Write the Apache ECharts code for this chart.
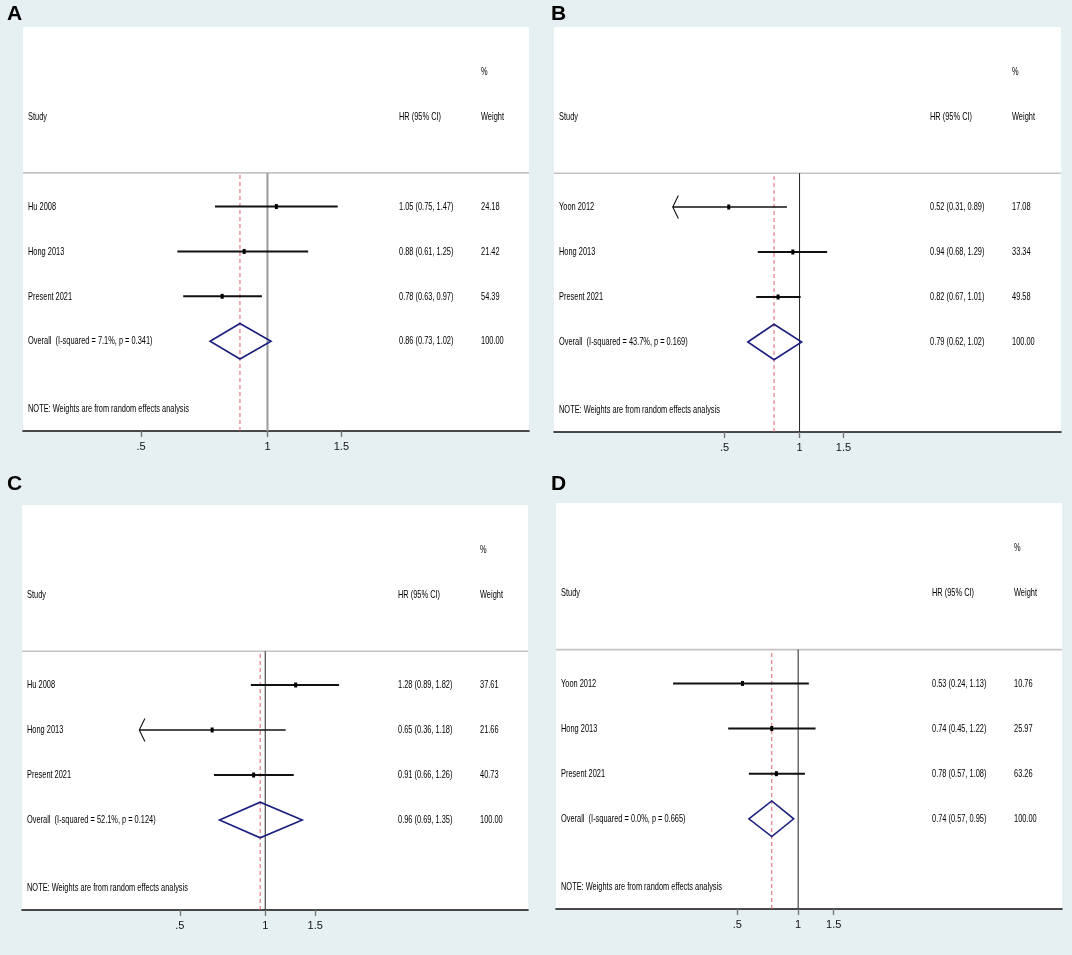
<!DOCTYPE html>
<html>
<head>
<meta charset="utf-8">
<script src="https://cdn.jsdelivr.net/npm/echarts@6/dist/echarts.min.js"></script>
<style>html,body{margin:0;padding:0;background:#e6f0f3;}#c{width:1072px;height:955px;}</style>
</head>
<body>
<div id="c"></div>
<script>
// ---------- data ----------
const panelLetters = ['A', 'B', 'C', 'D'];

const studiesA = ['Hu 2008', 'Hong 2013', 'Present 2021'];
const hrA = [1.05, 0.88, 0.78];
const loA = [0.75, 0.61, 0.63];
const hiA = [1.47, 1.25, 0.97];
const weightA = [24.18, 21.42, 54.39];
const arrowA = [0, 0, 0];
const overallA = [0.86, 0.73, 1.02];
const hetA = ['7.1%', '0.341'];

const studiesB = ['Yoon 2012', 'Hong 2013', 'Present 2021'];
const hrB = [0.52, 0.94, 0.82];
const loB = [0.31, 0.68, 0.67];
const hiB = [0.89, 1.29, 1.01];
const weightB = [17.08, 33.34, 49.58];
const arrowB = [1, 0, 0];
const overallB = [0.79, 0.62, 1.02];
const hetB = ['43.7%', '0.169'];

const studiesC = ['Hu 2008', 'Hong 2013', 'Present 2021'];
const hrC = [1.28, 0.65, 0.91];
const loC = [0.89, 0.36, 0.66];
const hiC = [1.82, 1.18, 1.26];
const weightC = [37.61, 21.66, 40.73];
const arrowC = [0, 1, 0];
const overallC = [0.96, 0.69, 1.35];
const hetC = ['52.1%', '0.124'];

const studiesD = ['Yoon 2012', 'Hong 2013', 'Present 2021'];
const hrD = [0.53, 0.74, 0.78];
const loD = [0.24, 0.45, 0.57];
const hiD = [1.13, 1.22, 1.08];
const weightD = [10.76, 25.97, 63.26];
const arrowD = [0, 0, 0];
const overallD = [0.74, 0.57, 0.95];
const hetD = ['0.0%', '0.665'];

const tickValues = [0.5, 1, 1.5];
const tickLabels = ['.5', '1', '1.5'];

const noteText = 'NOTE: Weights are from random effects analysis';

// ---------- layout ----------
const layout = [
  { left: 23,  top: 27,  width: 506, height: 404, min: 0.2616, max: 4.198, refColor: '#9a9a9a', refWidth: 2,   letter: [7, 4] },
  { left: 554, top: 27,  width: 507, height: 405, min: 0.1035, max: 11.19, refColor: '#222222', refWidth: 1,   letter: [551, 4] },
  { left: 22,  top: 505, width: 506, height: 405, min: 0.139,  max: 8.43,  refColor: '#222222', refWidth: 1,   letter: [7, 474] },
  { left: 556, top: 503, width: 506, height: 406, min: 0.0631, max: 20.3,  refColor: '#222222', refWidth: 1,   letter: [551, 474] }
];
const ROW_Y = [5, 4, 3];
const OVERALL_Y = 2, NOTE_Y = 0.5, HEAD_Y = 7, PCT_Y = 8, LINE_Y = 5.75, DIAMOND_H = 0.395;
const COL_STUDY = 5, COL_HR = 376, COL_WT = 458;
const SX = 0.645;
const FONT = 'Liberation Sans, Arial, sans-serif';

const panels = [
  { studies: studiesA, hr: hrA, lo: loA, hi: hiA, w: weightA, arrow: arrowA, overall: overallA, het: hetA },
  { studies: studiesB, hr: hrB, lo: loB, hi: hiB, w: weightB, arrow: arrowB, overall: overallB, het: hetB },
  { studies: studiesC, hr: hrC, lo: loC, hi: hiC, w: weightC, arrow: arrowC, overall: overallC, het: hetC },
  { studies: studiesD, hr: hrD, lo: loD, hi: hiD, w: weightD, arrow: arrowD, overall: overallD, het: hetD }
];

const fmtCI = (h, l, u) => h.toFixed(2) + ' (' + l.toFixed(2) + ', ' + u.toFixed(2) + ')';

function txt(x, y, s) {
  return { type: 'text', x: x, y: y, scaleX: SX, silent: true,
    style: { text: s, fill: '#000', fontSize: 11.5, fontFamily: FONT, textAlign: 'left', textVerticalAlign: 'middle' } };
}

const grids = [], xAxes = [], yAxes = [], series = [], graphics = [];

panels.forEach((p, i) => {
  const L = layout[i];
  grids.push({ left: L.left, top: L.top, width: L.width, height: L.height, show: true, backgroundColor: '#ffffff', borderWidth: 0 });
  xAxes.push({
    type: 'log', gridIndex: i, min: L.min, max: L.max,
    axisLine: { show: true, onZero: false, lineStyle: { color: '#111', width: 1.6 } },
    axisTick: { show: true, customValues: tickValues, length: 6, lineStyle: { color: '#777', width: 1.4 } },
    axisLabel: { show: true, customValues: tickValues, margin: 10, fontSize: 11, fontFamily: FONT, color: '#111',
      formatter: v => { const k = tickValues.findIndex(t => Math.abs(t - v) < 1e-6); return k >= 0 ? tickLabels[k] : ''; } },
    splitLine: { show: false }, minorTick: { show: false }
  });
  yAxes.push({ type: 'value', gridIndex: i, min: 0, max: 9, show: false });

  // frame: header rule, reference line at 1, dashed overall line
  series.push({
    type: 'custom', xAxisIndex: i, yAxisIndex: i, silent: true, z: 1,
    data: [[1, 0]],
    renderItem: (params, api) => {
      const cs = params.coordSys;
      const hy = api.coord([1, LINE_Y])[1];
      const a0 = api.coord([1, 0]), a1 = api.coord([1, LINE_Y]);
      const o0 = api.coord([p.overall[0], 0]), o1 = api.coord([p.overall[0], LINE_Y]);
      return { type: 'group', children: [
        { type: 'line', shape: { x1: cs.x, y1: hy, x2: cs.x + cs.width, y2: hy }, style: { stroke: '#c4c4c4', lineWidth: 1.6 } },
        { type: 'line', shape: { x1: o0[0], y1: o0[1], x2: o1[0], y2: o1[1] }, style: { stroke: '#e0606e', lineWidth: 1, lineDash: [4, 3] } },
        { type: 'line', shape: { x1: a0[0], y1: a0[1], x2: a1[0], y2: a1[1] }, style: { stroke: L.refColor, lineWidth: L.refWidth } }
      ] };
    }
  });

  // study CIs
  series.push({
    type: 'custom', xAxisIndex: i, yAxisIndex: i, silent: true, z: 3,
    encode: { x: 0, y: 3 },
    data: p.studies.map((s, k) => [p.hr[k], p.lo[k], p.hi[k], ROW_Y[k], p.arrow[k]]),
    renderItem: (params, api) => {
      const y = api.value(3);
      const p0 = api.coord([api.value(1), y]);
      const p1 = api.coord([api.value(2), y]);
      const pc = api.coord([api.value(0), y]);
      const arrow = api.value(4) === 1;
      const ch = [
        { type: 'line', shape: { x1: p0[0], y1: p0[1], x2: p1[0], y2: p1[1] }, style: { stroke: '#111', lineWidth: arrow ? 1.6 : 2 } },
        { type: 'rect', shape: { x: pc[0] - 1.5, y: pc[1] - 2.5, width: 3, height: 5 }, style: { fill: '#000' } }
      ];
      if (arrow) {
        ch.push({ type: 'polyline', shape: { points: [[p0[0] + 5.6, p0[1] - 11.5], [p0[0], p0[1]], [p0[0] + 5.6, p0[1] + 11.5]] },
          style: { stroke: '#111', lineWidth: 1.1, fill: null } });
      }
      return { type: 'group', children: ch };
    }
  });

  // overall diamond
  series.push({
    type: 'custom', xAxisIndex: i, yAxisIndex: i, silent: true, z: 3,
    encode: { x: 0, y: 3 },
    data: [[p.overall[0], p.overall[1], p.overall[2], OVERALL_Y]],
    renderItem: (params, api) => {
      const y = api.value(3);
      const pts = [
        api.coord([api.value(1), y]),
        api.coord([api.value(0), y + DIAMOND_H]),
        api.coord([api.value(2), y]),
        api.coord([api.value(0), y - DIAMOND_H])
      ];
      return { type: 'polygon', shape: { points: pts }, style: { stroke: '#1b1f7e', lineWidth: 1.6, fill: null } };
    }
  });

  // text columns
  series.push({
    type: 'custom', xAxisIndex: i, yAxisIndex: i, silent: true, z: 4,
    data: [[1, 0]],
    renderItem: (params, api) => {
      const x0 = params.coordSys.x;
      const yy = v => api.coord([1, v])[1];
      const ch = [
        txt(x0 + COL_WT, yy(PCT_Y), '%'),
        txt(x0 + COL_STUDY, yy(HEAD_Y), 'Study'),
        txt(x0 + COL_HR, yy(HEAD_Y), 'HR (95% CI)'),
        txt(x0 + COL_WT, yy(HEAD_Y), 'Weight')
      ];
      p.studies.forEach((s, k) => {
        ch.push(txt(x0 + COL_STUDY, yy(ROW_Y[k]), s));
        ch.push(txt(x0 + COL_HR, yy(ROW_Y[k]), fmtCI(p.hr[k], p.lo[k], p.hi[k])));
        ch.push(txt(x0 + COL_WT, yy(ROW_Y[k]), p.w[k].toFixed(2)));
      });
      ch.push(txt(x0 + COL_STUDY, yy(OVERALL_Y), 'Overall  (I-squared = ' + p.het[0] + ', p = ' + p.het[1] + ')'));
      ch.push(txt(x0 + COL_HR, yy(OVERALL_Y), fmtCI(p.overall[0], p.overall[1], p.overall[2])));
      ch.push(txt(x0 + COL_WT, yy(OVERALL_Y), (100).toFixed(2)));
      ch.push(txt(x0 + COL_STUDY, yy(NOTE_Y), noteText));
      return { type: 'group', children: ch };
    }
  });

  graphics.push({ type: 'text', left: L.letter[0], top: L.letter[1], silent: true,
    style: { text: panelLetters[i], fontSize: 21, fontWeight: 'bold', fontFamily: FONT, fill: '#000' } });
});

const chart = echarts.init(document.getElementById('c'), null, { renderer: 'canvas' });
chart.setOption({
  backgroundColor: '#e6f0f3',
  animation: false,
  grid: grids,
  xAxis: xAxes,
  yAxis: yAxes,
  series: series,
  graphic: graphics
});
</script>
</body>
</html>
